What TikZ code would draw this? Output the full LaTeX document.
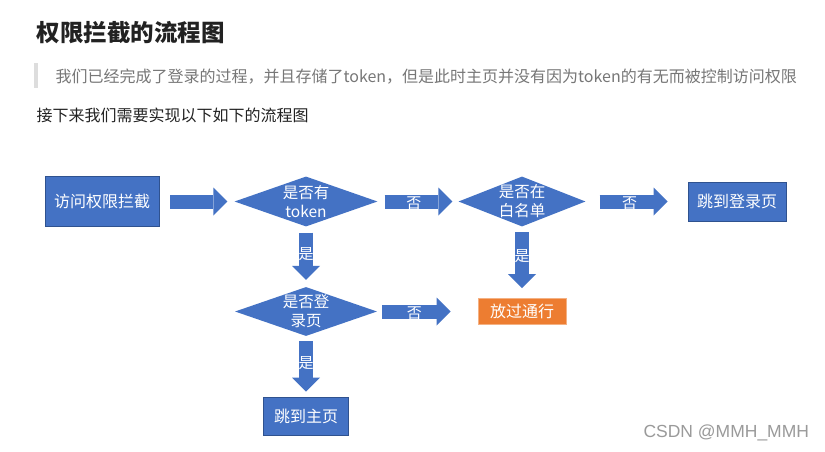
\documentclass[tikz,border=0pt]{standalone}
\usepackage{fontspec}
\setmainfont{Noto Sans CJK SC}
\newfontfamily\markfont{Liberation Sans}
\usetikzlibrary{arrows.meta,shapes.geometric}
\definecolor{flowblue}{HTML}{4472C4}
\definecolor{flowedge}{HTML}{2F528F}
\definecolor{floworange}{HTML}{ED7D31}
\definecolor{orangeedge}{HTML}{F4B183}
\definecolor{inkgray}{HTML}{222222}
\definecolor{quotebar}{HTML}{DDDDDD}
\definecolor{quotetext}{HTML}{777777}
\definecolor{markgray}{HTML}{9A9A9A}

\begin{document}
\begin{tikzpicture}[x=1pt,y=-1pt,
  procbox/.style={rectangle,fill=flowblue,draw=flowedge,line width=0.6pt,
                  text=white,inner sep=0pt,font=\fontsize{16pt}{19pt}\selectfont},
  decision/.style={diamond,fill=flowblue,inner sep=0pt},
  dtext/.style={text=white,align=center,inner sep=0pt,
                font=\fontsize{15.5pt}{19pt}\selectfont},
  blockarr/.style={draw=flowblue,line width=14pt,
                   -{Triangle[width=28pt,length=14pt,line width=0pt]}},
  arrlabel/.style={text=white,inner sep=0pt,font=\fontsize{15pt}{15pt}\selectfont}
]
\fill[white] (0,0) rectangle (825,452);
\useasboundingbox (0,0) rectangle (825,452);

% ---- Heading and text ---------------------------------------
\node[anchor=west,font=\fontsize{23.5pt}{26pt}\selectfont\bfseries,text=inkgray] (title) at (33,33) {权限拦截的流程图};
\fill[quotebar] (34,63) rectangle (38,88);
\node[anchor=west,font=\fontsize{16pt}{18pt}\selectfont,text=quotetext] (quote) at (52,77) {我们已经完成了登录的过程，并且存储了token，但是此时主页并没有因为token的有无而被控制访问权限};
\node[anchor=west,font=\fontsize{16pt}{18pt}\selectfont,text=inkgray] (lead) at (33,115) {接下来我们需要实现以下如下的流程图};

% ---- Row 1 ----------------------------------------------------
\node[procbox,minimum width=114pt,minimum height=50pt] (guard) at (102,201.5) {访问权限拦截};
\node[decision,minimum width=143pt,minimum height=50pt,label={[dtext]center:{是否有\\token}}] (hastoken) at (306,201.5) {};
\node[decision,minimum width=127pt,minimum height=50pt,label={[dtext]center:{是否在\\白名单}}] (whitelist) at (522,201.5) {};
\node[procbox,minimum width=98pt,minimum height=39pt] (tologin) at (737,201.5) {跳到登录页};

% ---- Row 2 and 3 ----------------------------------------------
\node[decision,minimum width=142pt,minimum height=49pt,label={[dtext]center:{是否登\\录页}}] (islogin) at (306,311.5) {};
\node[procbox,fill=floworange,draw=orangeedge,minimum width=88pt,minimum height=26pt] (pass) at (522,311.5) {放过通行};
\node[procbox,minimum width=85pt,minimum height=38pt] (tohome) at (306,416) {跳到主页};

% ---- Block arrows ---------------------------------------------
\draw[blockarr,shorten <=11pt,shorten >=7pt] (guard) -- (hastoken);
\draw[blockarr,shorten <=7pt,shorten >=6pt] (hastoken) -- node[arrlabel,pos=0.45,yshift=-1.5pt] {否} (whitelist);
\draw[blockarr,shorten <=14pt,shorten >=20pt] (whitelist) -- node[arrlabel,pos=0.43,yshift=-1.5pt] {否} (tologin);
\draw[blockarr,shorten <=6pt,shorten >=7pt] (hastoken) -- node[arrlabel,pos=0.45] {是} (islogin);
\draw[blockarr,shorten <=5.5pt,shorten >=10pt] (whitelist) -- node[arrlabel,pos=0.41] {是} (pass);
\draw[blockarr,shorten <=5pt,shorten >=27pt] (islogin) -- node[arrlabel,pos=0.37,yshift=-1.5pt] {否} (pass);
\draw[blockarr,shorten <=5pt,shorten >=5pt] (islogin) -- node[arrlabel,pos=0.45] {是} (tohome);

% ---- Watermark ------------------------------------------------
\node[anchor=west,font=\markfont\fontsize{17.5pt}{18pt}\selectfont,text=markgray] (mark) at (640,433) {CSDN @MMH\_MMH};

\end{tikzpicture}
\end{document}
